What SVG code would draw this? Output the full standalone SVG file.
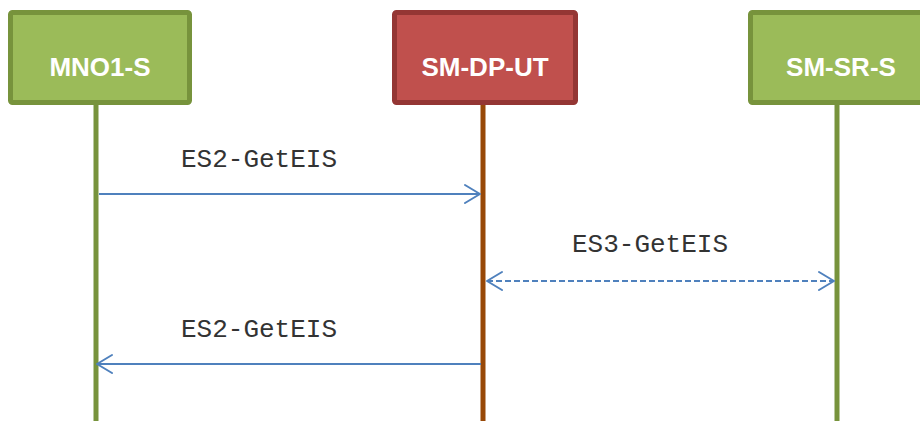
<svg xmlns="http://www.w3.org/2000/svg" width="920" height="421" viewBox="0 0 920 421">
<style>
.box text{font-family:"Liberation Sans",Arial,sans-serif;font-weight:bold;font-size:26px;fill:#fff;text-anchor:middle}
.green rect{fill:#9bbb59;stroke:#77933c;stroke-width:5}
.red rect{fill:#c0504d;stroke:#943634;stroke-width:5}
.life{stroke-width:5}
.msg{stroke:#4f81bd;stroke-width:2;fill:none}
.head{stroke:#4f81bd;stroke-width:2;fill:none;stroke-linecap:round;stroke-linejoin:round}
.lbl{font-family:"Liberation Mono","Courier New",monospace;font-size:26px;fill:#333}
</style>
<rect width="920" height="421" fill="#fff"/>
<g id="lifelines">
<line class="life" x1="96" y1="104" x2="96" y2="421" stroke="#77933c"/>
<line class="life" x1="483" y1="104" x2="483" y2="421" stroke="#984807"/>
<line class="life" x1="837" y1="104" x2="837" y2="421" stroke="#77933c"/>
</g>
<g id="MNO1-S" class="box green">
<rect x="10.5" y="12.5" width="179" height="90" rx="2"/>
<text x="100" y="76">MNO1-S</text>
</g>
<g id="SM-DP-UT" class="box red">
<rect x="394.5" y="12.5" width="181" height="90" rx="2"/>
<text x="485" y="76">SM-DP-UT</text>
</g>
<g id="SM-SR-S" class="box green">
<rect x="750.5" y="12.5" width="200" height="90" rx="2"/>
<text x="841" y="76">SM-SR-S</text>
</g>
<g id="connectors">
<line class="msg" x1="99" y1="194" x2="480" y2="194"/>
<polyline class="head" points="465,185 480,194 465,203"/>
<text class="lbl" x="181" y="167">ES2-GetEIS</text>
<line class="msg" x1="487" y1="281" x2="834" y2="281" stroke-dasharray="6,3"/>
<polyline class="head" points="502,272 487,281 502,290"/>
<polyline class="head" points="819,272 834,281 819,290"/>
<text class="lbl" x="572" y="252">ES3-GetEIS</text>
<line class="msg" x1="481" y1="364" x2="97" y2="364"/>
<polyline class="head" points="112,355 97,364 112,373"/>
<text class="lbl" x="181" y="337">ES2-GetEIS</text>
</g>
</svg>
